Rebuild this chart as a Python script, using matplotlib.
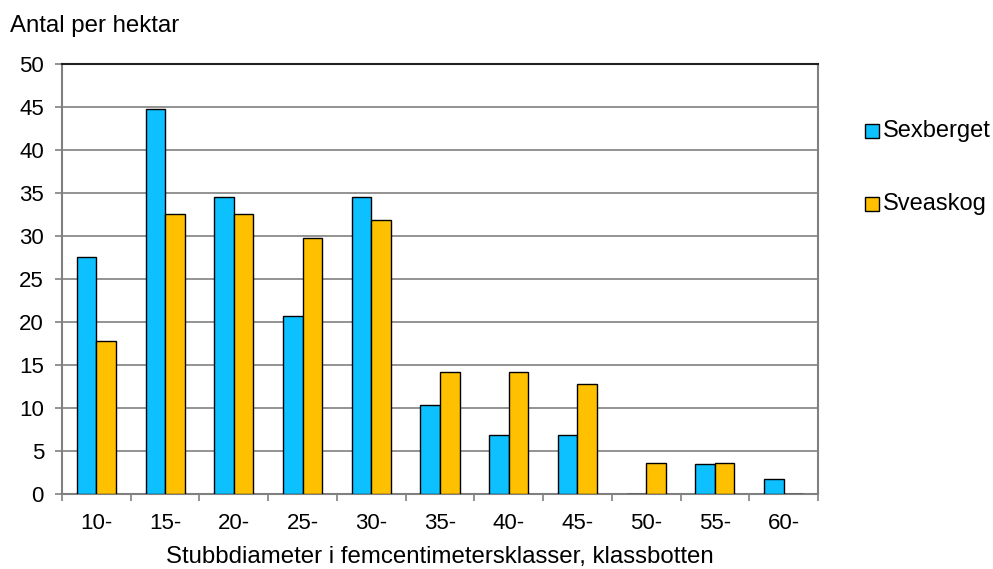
import numpy as np
import matplotlib
matplotlib.use("Agg")
import matplotlib.pyplot as plt
from matplotlib.patches import Rectangle

plt.rcParams['font.family'] = ['Liberation Sans', 'DejaVu Sans']

klasser = ['10-', '15-', '20-', '25-', '30-', '35-', '40-', '45-', '50-', '55-', '60-']
sexberget = [27.6, 44.8, 34.5, 20.7, 34.5, 10.3, 6.9, 6.9, 0.0, 3.45, 1.8]
sveaskog = [17.75, 32.6, 32.6, 29.8, 31.9, 14.2, 14.2, 12.75, 3.55, 3.55, 0.0]
serier = ['Sexberget', 'Sveaskog']

BLA = '#0DC0FF'
GUL = '#FFC000'
GRA = '#808080'
W, H = 993, 569

fig = plt.figure(figsize=(W / 100, H / 100), dpi=100)
ax = fig.add_axes([62 / W, 1 - 494 / H, 756 / W, 430 / H])

x = np.arange(len(klasser))
w = 0.285
ax.bar(x - w / 2, sexberget, w, color=BLA, edgecolor='black', linewidth=1.0, zorder=3)
ax.bar(x + w / 2, sveaskog, w, color=GUL, edgecolor='black', linewidth=1.0, zorder=3)

ax.set_xlim(-0.5, len(klasser) - 0.5)
ax.set_ylim(0, 50)
ax.set_yticks(range(0, 51, 5))
ax.yaxis.grid(True, color=GRA, linewidth=1.2, zorder=0)

# tickstreck mellan klasserna, etiketterna i mitten
ax.set_xticks(np.arange(-0.5, len(klasser)))
ax.set_xticklabels([])
ax.set_xticks(x, minor=True)
ax.set_xticklabels(klasser, minor=True)
ax.tick_params(axis='x', which='major', length=5, color=GRA, width=1.2)
ax.tick_params(axis='x', which='minor', length=0, pad=14, labelsize=16)
ax.tick_params(axis='y', length=5, color=GRA, width=1.2, labelsize=16, pad=8)

for s in ax.spines.values():
    s.set_color(GRA)
    s.set_linewidth(1.5)
ax.spines['top'].set_color('#202020')

fig.text(10 / W, 1 - 32 / H, 'Antal per hektar', fontsize=17.3, va='baseline', ha='left')
fig.text(440 / W, 1 - 563 / H, 'Stubbdiameter i femcentimetersklasser, klassbotten',
         fontsize=17.3, va='baseline', ha='center')

# förklaring
for namn, farg, yc in zip(serier, [BLA, GUL], [131, 204]):
    fig.patches.append(Rectangle((865 / W, 1 - (yc + 7) / H), 14 / W, 14 / H,
                                 transform=fig.transFigure, facecolor=farg,
                                 edgecolor='black', linewidth=1.0))
    fig.text(883 / W, 1 - yc / H, namn, fontsize=17, va='center', ha='left')

fig.savefig('out.png', dpi=100)
